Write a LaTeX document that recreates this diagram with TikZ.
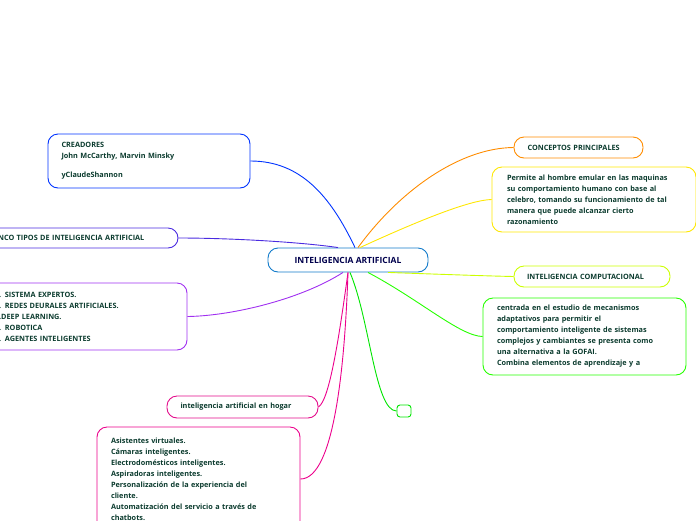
\documentclass[tikz,border=0pt]{standalone}
\usepackage{fontspec}
\setmainfont{Open Sans}
\hyphenpenalty=10000
\definecolor{txt}{HTML}{0B3B2E}
\definecolor{indigoline}{HTML}{4A2BE0}
\definecolor{purpleline}{HTML}{A030F0}
\tikzset{
  topic/.style={draw, rounded corners=10pt, line width=0.9pt, font=\fontsize{7.3}{11}\selectfont\bfseries, text=txt, align=left, inner sep=0pt},
  link/.style={line width=0.9pt},
}
\begin{document}
\begin{tikzpicture}[x=1pt,y=-1pt]
  \useasboundingbox (0,0) rectangle (696,520);
  \node[topic, draw=cyan!60!blue, minimum width=160, minimum height=24, font=\fontsize{8.5}{10}\selectfont\bfseries, text=blue!30!black](central) at (348,260){INTELIGENCIA ARTIFICIAL};

  \node[topic, draw=blue!80!cyan, minimum width=202, minimum height=54, text width=175](creators) at (149,161){CREADORES\\John McCarthy, Marvin Minsky\\[8pt]yClaudeShannon};
  \node[topic, draw=indigoline, minimum width=200, minimum height=20, text width=180](types) at (78,238){\hspace*{3pt}CINCO TIPOS DE INTELIGENCIA ARTIFICIAL};
  \node[topic, draw=purpleline, minimum width=210, minimum height=67, text width=180](list) at (82,316.5){\hspace*{3pt}1. SISTEMA EXPERTOS.\\\hspace*{3pt}2. REDES DEURALES ARTIFICIALES.\\\hspace*{3pt}3.DEEP LEARNING.\\\hspace*{3pt}4. ROBOTICA\\\hspace*{3pt}5. AGENTES INTELIGENTES};
  \node[topic, draw=magenta!90!violet, minimum width=151, minimum height=22, text width=124](home) at (242.5,407){inteligencia artificial en hogar};
  \node[topic, draw=magenta, minimum width=203, minimum height=104, text width=175](assist) at (198.5,479){Asistentes virtuales.\\Cámaras inteligentes.\\Electrodomésticos inteligentes.\\Aspiradoras inteligentes.\\Personalización de la experiencia del\\cliente.\\Automatización del servicio a través de\\chatbots.\\[6pt]};

  \node[topic, draw=orange!90!yellow, minimum width=129, minimum height=21, text width=102](concepts) at (578.5,147.5){CONCEPTOS PRINCIPALES};
  \node[topic, draw=yellow!90!orange, minimum width=204, minimum height=65, text width=174](permite) at (594,199.5){Permite al hombre emular en las maquinas\\su comportamiento humano con base al\\celebro, tomando su funcionamiento de tal\\manera que puede alcanzar cierto\\razonamiento};
  \node[topic, draw=lime!80!yellow, minimum width=156, minimum height=21, text width=130](compu) at (592,276.5){INTELIGENCIA COMPUTACIONAL};
  \node[topic, draw=green!80!lime, minimum width=203, minimum height=77, text width=175](centrada) at (584.5,336.5){centrada en el estudio de mecanismos\\adaptativos para permitir el\\comportamiento inteligente de sistemas\\complejos y cambiantes se presenta como\\una alternativa a la GOFAI.\\Combina elementos de aprendizaje y a};
  \node[topic, draw=green!90!black, rounded corners=3pt, minimum width=14, minimum height=12](empty) at (404,411){};

  % connectors
  \draw[link, blue!80!cyan] ([xshift=7]central.north) .. controls (330,195) and (300,161) .. (creators.east);
  \draw[link, indigoline] ([xshift=-10]central.north) .. controls (300,242) and (230,238) .. (types.east);
  \draw[link, purpleline] ([xshift=-5]central.south) .. controls (300,300) and (230,316) .. (list.east);
  \draw[link, magenta] ([xshift=0]central.south) .. controls (340,330) and (330,400) .. (home.east);
  \draw[link, magenta] ([xshift=0]central.south) .. controls (345,360) and (335,479) .. (assist.east);
  \draw[link, orange!90!yellow] ([xshift=10]central.north) .. controls (400,190) and (460,148) .. (concepts.west);
  \draw[link, yellow!90!orange] ([xshift=12]central.north) .. controls (420,220) and (470,200) .. (permite.west);
  \draw[link, lime!80!yellow] ([xshift=40]central.south) .. controls (460,275) and (490,276) .. (compu.west);
  \draw[link, green!80!lime] ([xshift=20]central.south) .. controls (420,300) and (460,336) .. (centrada.west);
  \draw[link, green!90!black] ([xshift=2]central.south) .. controls (370,320) and (375,411) .. (empty.west);
\end{tikzpicture}
\end{document}
